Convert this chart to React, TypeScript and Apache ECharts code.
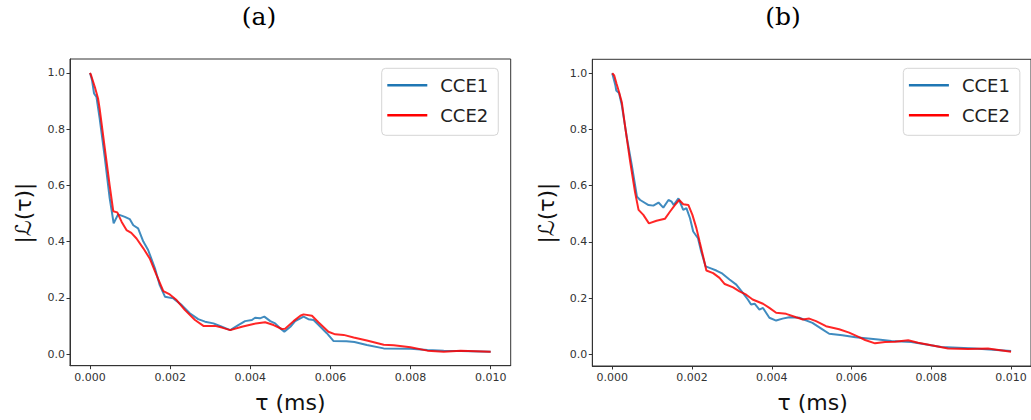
import React, { useEffect, useRef } from "react";
import * as echarts from "echarts";

// times in units of 1e-3 ms
const tA1 = [0, 0.05, 0.1, 0.16, 0.24, 0.37, 0.49, 0.59, 0.7, 0.87, 0.99, 1.08, 1.2, 1.33, 1.45, 1.62, 1.74, 1.87, 2.08, 2.29, 2.49, 2.7, 2.87, 3.08, 3.29, 3.5, 3.7, 3.87, 4.04, 4.12, 4.24, 4.35, 4.5, 4.62, 4.75, 4.85, 5.0, 5.12, 5.25, 5.33, 5.45, 5.58, 5.75, 5.91, 6.08, 6.4, 6.6, 6.91, 7.33, 8.0, 8.42, 8.83, 9.25, 10.0];
const vA1 = [1.0, 0.974, 0.927, 0.915, 0.838, 0.697, 0.555, 0.465, 0.497, 0.488, 0.48, 0.458, 0.447, 0.4, 0.37, 0.305, 0.245, 0.204, 0.198, 0.174, 0.145, 0.124, 0.115, 0.109, 0.097, 0.085, 0.103, 0.117, 0.121, 0.129, 0.127, 0.133, 0.117, 0.109, 0.091, 0.079, 0.097, 0.117, 0.127, 0.133, 0.124, 0.121, 0.097, 0.074, 0.046, 0.045, 0.043, 0.032, 0.02, 0.019, 0.014, 0.012, 0.011, 0.008];
const tA2 = [0, 0.03, 0.12, 0.2, 0.24, 0.37, 0.49, 0.58, 0.68, 0.79, 0.91, 1.03, 1.16, 1.33, 1.49, 1.66, 1.83, 1.99, 2.16, 2.37, 2.62, 2.83, 3.12, 3.29, 3.5, 3.79, 4.08, 4.37, 4.58, 4.79, 4.87, 5.08, 5.25, 5.33, 5.54, 5.7, 5.95, 6.12, 6.33, 6.58, 6.91, 7.33, 7.58, 8.0, 8.42, 8.83, 9.25, 10.0];
const vA2 = [1.0, 0.99, 0.95, 0.909, 0.873, 0.731, 0.6, 0.508, 0.504, 0.47, 0.441, 0.431, 0.411, 0.376, 0.34, 0.281, 0.224, 0.212, 0.192, 0.156, 0.121, 0.1, 0.1, 0.094, 0.085, 0.097, 0.107, 0.113, 0.103, 0.089, 0.09, 0.117, 0.136, 0.141, 0.136, 0.113, 0.079, 0.07, 0.068, 0.059, 0.048, 0.033, 0.031, 0.024, 0.012, 0.008, 0.012, 0.008];
const tB1 = [0, 0.08, 0.1, 0.17, 0.24, 0.37, 0.49, 0.62, 0.7, 0.91, 1.03, 1.16, 1.28, 1.41, 1.49, 1.54, 1.66, 1.78, 1.86, 1.95, 2.03, 2.15, 2.23, 2.34, 2.49, 2.61, 2.74, 2.94, 3.11, 3.28, 3.4, 3.48, 3.57, 3.69, 3.78, 3.94, 4.11, 4.27, 4.44, 4.69, 5.02, 5.27, 5.44, 5.77, 6.1, 6.67, 7.0, 7.5, 7.84, 8.25, 9.09, 10.0];
const vB1 = [1.0, 0.956, 0.939, 0.93, 0.886, 0.768, 0.673, 0.561, 0.549, 0.531, 0.529, 0.54, 0.522, 0.549, 0.543, 0.531, 0.555, 0.514, 0.52, 0.484, 0.437, 0.413, 0.366, 0.313, 0.305, 0.298, 0.289, 0.266, 0.248, 0.218, 0.195, 0.177, 0.18, 0.159, 0.165, 0.13, 0.12, 0.127, 0.132, 0.13, 0.112, 0.089, 0.073, 0.068, 0.061, 0.053, 0.047, 0.044, 0.036, 0.026, 0.021, 0.012];
const tB2 = [0, 0.05, 0.11, 0.17, 0.24, 0.33, 0.45, 0.57, 0.66, 0.78, 0.92, 1.11, 1.32, 1.45, 1.57, 1.68, 1.78, 1.91, 2.01, 2.11, 2.19, 2.28, 2.36, 2.53, 2.69, 2.82, 3.03, 3.19, 3.36, 3.52, 3.78, 3.94, 4.11, 4.36, 4.61, 4.78, 4.94, 5.11, 5.36, 5.69, 5.94, 6.19, 6.34, 6.59, 6.84, 7.09, 7.42, 7.67, 8.0, 8.42, 8.92, 9.42, 10.0];
const vB2 = [1.0, 0.992, 0.962, 0.933, 0.897, 0.803, 0.685, 0.578, 0.514, 0.496, 0.466, 0.475, 0.482, 0.508, 0.531, 0.549, 0.534, 0.531, 0.496, 0.449, 0.401, 0.348, 0.298, 0.289, 0.272, 0.25, 0.238, 0.224, 0.212, 0.195, 0.18, 0.165, 0.148, 0.144, 0.132, 0.124, 0.127, 0.118, 0.1, 0.089, 0.077, 0.061, 0.051, 0.039, 0.044, 0.045, 0.05, 0.041, 0.032, 0.021, 0.019, 0.021, 0.009];

const xTicks = [0, 0.002, 0.004, 0.006, 0.008, 0.01];
const yTicks = [0, 0.2, 0.4, 0.6, 0.8, 1.0];
const seriesNames = ["CCE1", "CCE2"];
const panelTitles = ["(a)", "(b)"];

const BLUE = "#1f77b4";
const RED = "#ff0000";
const FONT = "DejaVu Sans";

const toPairs = (t: number[], v: number[]) => t.map((x, i) => [x * 1e-3, v[i]]);

export default function App() {
  const ref = useRef<HTMLDivElement>(null);
  useEffect(() => {
    if (!ref.current) return;
    const chart = echarts.init(ref.current, undefined, { renderer: "svg" });
    const grids = [
      { left: 70, top: 59, width: 440.7, height: 306.7 },
      { left: 592.3, top: 59.3, width: 440.7, height: 306.7 },
    ];
    const xAxis = grids.map((_, i) => ({
      type: "value",
      gridIndex: i,
      min: -0.0005,
      max: 0.0105,
      splitLine: { show: false },
      axisLine: { show: true, onZero: false, lineStyle: { color: "#333", width: 1 } },
      axisTick: { show: true, length: 3.5, inside: false, customValues: xTicks, lineStyle: { color: "#333" } },
      axisLabel: {
        customValues: xTicks,
        formatter: (v: number) => v.toFixed(3),
        color: "#333",
        fontFamily: FONT,
        fontSize: 11,
        margin: 6,
      },
    }));
    const yAxis = grids.map((_, i) => ({
      type: "value",
      gridIndex: i,
      min: -0.0416,
      max: 1.0496,
      splitLine: { show: false },
      axisLine: { show: true, onZero: false, lineStyle: { color: "#333", width: 1 } },
      axisTick: { show: true, length: 3.5, inside: false, customValues: yTicks, lineStyle: { color: "#333" } },
      axisLabel: {
        customValues: yTicks,
        formatter: (v: number) => v.toFixed(1),
        color: "#333",
        fontFamily: FONT,
        fontSize: 11,
        margin: 5,
      },
    }));
    const data = [
      [toPairs(tA1, vA1), toPairs(tA2, vA2)],
      [toPairs(tB1, vB1), toPairs(tB2, vB2)],
    ];
    const colors = [BLUE, RED];
    const series: any[] = [];
    data.forEach((pair, gi) => {
      pair.forEach((d, si) => {
        series.push({
          type: "line",
          name: seriesNames[si],
          xAxisIndex: gi,
          yAxisIndex: gi,
          data: d,
          showSymbol: false,
          symbol: "none",
          lineStyle: { color: colors[si], width: 2, opacity: 0.85 },
          itemStyle: { color: colors[si] },
          z: 2 + si,
        });
      });
    });
    const legendLefts = [381.7, 903.3];
    const legend = legendLefts.map((l) => ({
      orient: "vertical",
      left: l,
      top: 68.3,
      data: seriesNames,
      icon: "rect",
      itemWidth: 40,
      itemHeight: 2.5,
      itemGap: 12,
      padding: [8, 10, 11, 5.6],
      backgroundColor: "rgba(255,255,255,0.8)",
      borderColor: "#d5d5d5",
      borderWidth: 1,
      borderRadius: 4,
      selectedMode: false,
      textStyle: {
        fontFamily: FONT,
        fontSize: 18,
        lineHeight: 18,
        color: "#222",
        padding: [0, 0, 0, 8],
      },
    }));
    const graphics: any[] = [];
    const centersX = [290.35, 812.65];
    const titleX = [259, 783];
    const ylabX = [23, 546];
    [0, 1].forEach((i) => {
      graphics.push({
        type: "text",
        x: titleX[i],
        y: 16,
        style: {
          text: panelTitles[i],
          font: '25px "DejaVu Serif"',
          fill: "#000",
          align: "center",
          verticalAlign: "middle",
        },
      });
      graphics.push({
        type: "text",
        x: centersX[i],
        y: 402,
        style: {
          text: "τ (ms)",
          font: `22px "${FONT}"`,
          fill: "#111",
          align: "center",
          verticalAlign: "middle",
        },
      });
      graphics.push({
        type: "text",
        x: ylabX[i],
        y: 213,
        rotation: Math.PI / 2,
        style: {
          text: "|ℒ(τ)|",
          font: `22px "${FONT}"`,
          fill: "#111",
          align: "center",
          verticalAlign: "middle",
        },
      });
    });
    chart.setOption({
      animation: false,
      backgroundColor: "#fff",
      grid: grids.map((g) => ({ ...g, show: true, borderColor: "#333", borderWidth: 1, backgroundColor: "transparent" })),
      xAxis,
      yAxis,
      legend,
      series,
      graphic: graphics,
    });
    return () => chart.dispose();
  }, []);
  return (
    <div
      ref={ref}
      style={{ position: "absolute", left: 0, top: 0, width: 1031, height: 420 }}
    />
  );
}
